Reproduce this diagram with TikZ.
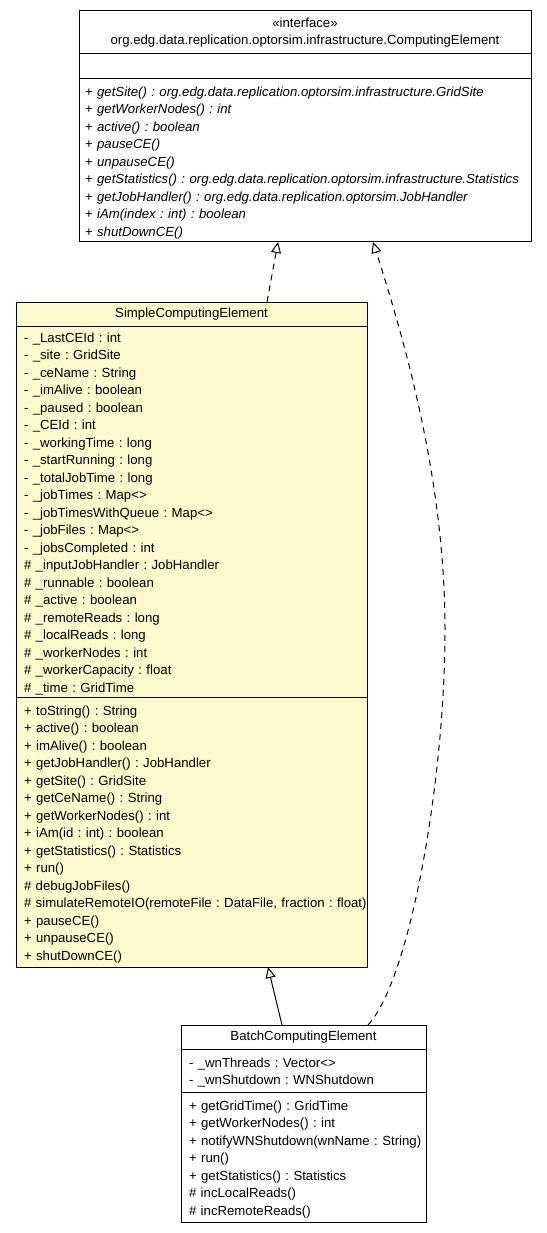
\documentclass[tikz,border=0pt]{standalone}
\usepackage{fontspec}
\setmainfont{Liberation Sans}
\usepackage{xcolor}
\usepackage{tikz}
\usetikzlibrary{arrows.meta, positioning}
\definecolor{classcolor}{RGB}{255, 250, 205}
\newcommand{\umlfont}{\fontsize{13.2}{17.5}\selectfont\frenchspacing}

\begin{document}
\begin{tikzpicture}[
    x=1pt, y=1pt,
    compartment/.style={draw, line width=1pt, outer sep=0pt, inner xsep=8pt, inner ysep=2pt, font=\umlfont, align=left},
    classname/.style={align=center, minimum height=24pt},
    members/.style={execute at begin node={\rule{0pt}{14pt}}},
    ifacepart/.style={compartment, fill=white, minimum width=452pt, text width=440pt, inner xsep=6pt},
    simplepart/.style={compartment, fill=classcolor, minimum width=351pt, text width=335pt},
    batchpart/.style={compartment, fill=white, minimum width=245pt, text width=229pt},
    inherit/.style={-{Triangle[open, length=11pt, width=10pt]}, line width=1pt},
    realize/.style={inherit, dash pattern=on 6pt off 5pt}
]
    \useasboundingbox (0,0) rectangle (546,-1233);

    % Interface
    \node[ifacepart, classname, minimum height=43pt, anchor=north, font=\fontsize{13.2}{17}\selectfont] (ifacetitle) at (305,-11)
        {«interface»\\org.edg.data.replication.optorsim.infrastructure.ComputingElement};
    \node[ifacepart, minimum height=25pt, below=0pt of ifacetitle] (ifaceattrs) {};
    \node[ifacepart, members, minimum height=163pt, below=0pt of ifaceattrs] (ifacemethods) {%
        + \textit{getSite() : org.edg.data.replication.optorsim.infrastructure.GridSite}\\
        + \textit{getWorkerNodes() : int}\\
        + \textit{active() : boolean}\\
        + \textit{pauseCE()}\\
        + \textit{unpauseCE()}\\
        + \textit{getStatistics() : org.edg.data.replication.optorsim.infrastructure.Statistics}\\
        + \textit{getJobHandler() : org.edg.data.replication.optorsim.JobHandler}\\
        + \textit{iAm(index : int) : boolean}\\
        + \textit{shutDownCE()}};

    % SimpleComputingElement
    \node[simplepart, classname, anchor=north] (simpletitle) at (191.5,-302) {SimpleComputingElement};
    \node[simplepart, members, minimum height=371pt, below=0pt of simpletitle] (simpleattrs) {%
        - \_LastCEId : int\\
        - \_site : GridSite\\
        - \_ceName : String\\
        - \_imAlive : boolean\\
        - \_paused : boolean\\
        - \_CEId : int\\
        - \_workingTime : long\\
        - \_startRunning : long\\
        - \_totalJobTime : long\\
        - \_jobTimes : Map<>\\
        - \_jobTimesWithQueue : Map<>\\
        - \_jobFiles : Map<>\\
        - \_jobsCompleted : int\\
        \# \_inputJobHandler : JobHandler\\
        \# \_runnable : boolean\\
        \# \_active : boolean\\
        \# \_remoteReads : long\\
        \# \_localReads : long\\
        \# \_workerNodes : int\\
        \# \_workerCapacity : float\\
        \# \_time : GridTime};
    \node[simplepart, members, minimum height=270pt, below=0pt of simpleattrs] (simplemethods) {%
        + toString() : String\\
        + active() : boolean\\
        + imAlive() : boolean\\
        + getJobHandler() : JobHandler\\
        + getSite() : GridSite\\
        + getCeName() : String\\
        + getWorkerNodes() : int\\
        + iAm(id : int) : boolean\\
        + getStatistics() : Statistics\\
        + run()\\
        \# debugJobFiles()\\
        \mbox{\# simulateRemoteIO(remoteFile : DataFile, fraction : float)}\\
        + pauseCE()\\
        + unpauseCE()\\
        + shutDownCE()};

    % BatchComputingElement
    \node[batchpart, classname, anchor=north] (batchtitle) at (303.5,-1025) {BatchComputingElement};
    \node[batchpart, members, minimum height=43pt, below=0pt of batchtitle] (batchattrs) {%
        - \_wnThreads : Vector<>\\
        - \_wnShutdown : WNShutdown};
    \node[batchpart, members, minimum height=130pt, below=0pt of batchattrs] (batchmethods) {%
        + getGridTime() : GridTime\\
        + getWorkerNodes() : int\\
        \mbox{+ notifyWNShutdown(wnName : String)}\\
        + run()\\
        + getStatistics() : Statistics\\
        \# incLocalReads()\\
        \# incRemoteReads()};

    % Relationships
    \coordinate (bend) at (445,-630);
    \draw[realize] ([xshift=75.5pt]simpletitle.north) -- ([xshift=-27pt]ifacemethods.south);
    \draw[inherit] ([xshift=-21.5pt]batchtitle.north) -- ([xshift=76.5pt]simplemethods.south);
    \draw[realize] ([xshift=64.5pt]batchtitle.north) .. controls +(42,45) and +(0,-150) .. (bend)
        .. controls +(0,130) and +(42,-130) .. ([xshift=68pt]ifacemethods.south);

\end{tikzpicture}
\end{document}
